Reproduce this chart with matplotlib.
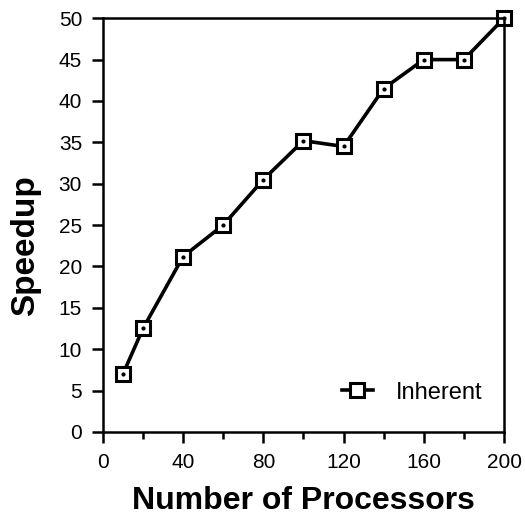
import numpy as np
import matplotlib.pyplot as plt
from matplotlib.ticker import MultipleLocator

plt.rcParams['font.family'] = ['Liberation Sans', 'DejaVu Sans']

# Data
procs = np.array([10, 20, 40, 60, 80, 100, 120, 140, 160, 180, 200])
speedup = np.array([7, 12.5, 21.2, 25, 30.5, 35.2, 34.5, 41.5, 45, 45, 50])

fig = plt.figure(figsize=(5.25, 5.21), dpi=100)
ax = fig.add_axes([0.196, 0.171, 0.764, 0.794])

ax.plot(procs, speedup, '-s', color='black', lw=2.6, ms=9.5,
        mfc='white', mec='black', mew=2.2, label='Inherent', clip_on=False)
ax.plot(procs, speedup, 'o', color='black', ms=2, zorder=5, clip_on=False)

ax.set_xlim(0, 200)
ax.set_ylim(0, 50)
ax.xaxis.set_major_locator(MultipleLocator(40))
ax.xaxis.set_minor_locator(MultipleLocator(20))
ax.yaxis.set_major_locator(MultipleLocator(5))
ax.tick_params(which='major', direction='out', length=8, width=1.8,
               labelsize=15, pad=7)
ax.tick_params(which='minor', direction='out', length=5, width=1.8)
for s in ax.spines.values():
    s.set_linewidth(1.8)

ax.set_xlabel('Number of Processors', fontsize=23, fontweight='bold', labelpad=10)
ax.set_ylabel('Speedup', fontsize=24, fontweight='bold')
ax.yaxis.set_label_coords(-0.155, 0.45)

leg = ax.legend(loc='center right', frameon=False, fontsize=17,
                handlelength=1.3, handletextpad=1.0,
                bbox_to_anchor=(1.0, 0.095))

fig.savefig('out.png', dpi=100)
